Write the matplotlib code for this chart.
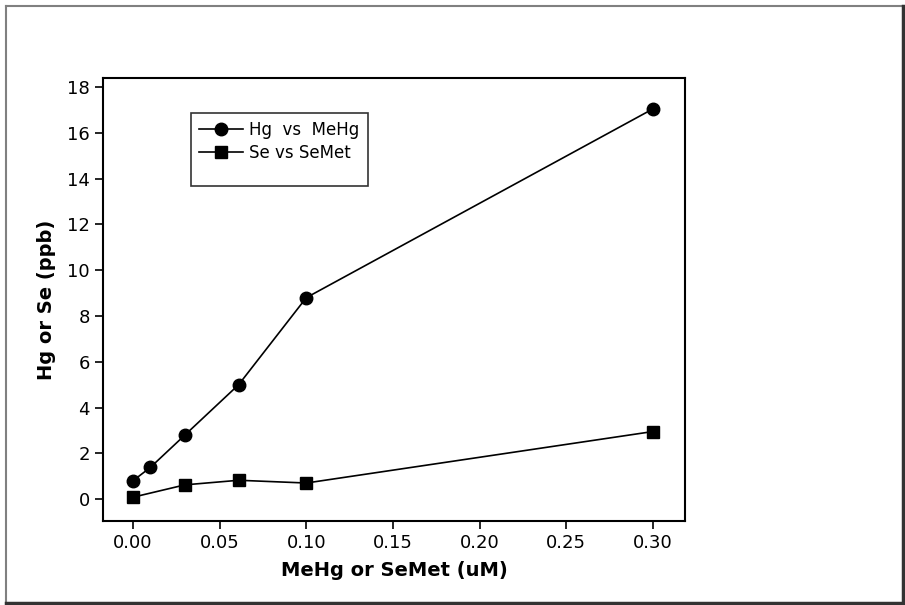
import numpy as np
import matplotlib.pyplot as plt
from matplotlib.lines import Line2D

# data
hg_x = [0.0, 0.01, 0.03, 0.061, 0.10, 0.30]
hg_y = [0.8, 1.38, 2.8, 5.0, 8.8, 17.05]
se_x = [0.0, 0.03, 0.061, 0.10, 0.30]
se_y = [0.08, 0.62, 0.82, 0.70, 2.95]

xticks = [0.00, 0.05, 0.10, 0.15, 0.20, 0.25, 0.30]
yticks = [0, 2, 4, 6, 8, 10, 12, 14, 16, 18]

plt.rcParams['font.family'] = ['DejaVu Sans']

W, H = 905, 605
fig = plt.figure(figsize=(W / 100, H / 100), dpi=100)

# outer frame, lighter top/left, darker bottom/right
fig.add_artist(Line2D([6 / W, 6 / W], [1 - 6 / H, 1 - 603 / H], color='#808080', lw=1.5))
fig.add_artist(Line2D([6 / W, 903 / W], [1 - 6 / H, 1 - 6 / H], color='#808080', lw=1.5))
fig.add_artist(Line2D([6 / W, 903 / W], [1 - 603 / H, 1 - 603 / H], color='#333333', lw=2.5))
fig.add_artist(Line2D([903 / W, 903 / W], [1 - 6 / H, 1 - 603 / H], color='#333333', lw=2.5))

ax = fig.add_axes([103 / W, 1 - 521 / H, (685 - 103) / W, (521 - 78) / H])

ax.plot(hg_x, hg_y, color='black', lw=1.2, marker='o', ms=9, label='Hg  vs  MeHg')
ax.plot(se_x, se_y, color='black', lw=1.2, marker='s', ms=8.5, label='Se vs SeMet')

ax.set_xlim(-0.0173, 0.3185)
ax.set_ylim(-0.96, 18.4)
ax.set_xticks(xticks)
ax.set_xticklabels(['%.2f' % v for v in xticks])
ax.set_yticks(yticks)
ax.tick_params(labelsize=13, length=6, width=1.2, color='black')
for s in ax.spines.values():
    s.set_linewidth(1.5)

ax.set_xlabel('MeHg or SeMet (uM)', fontsize=14, fontweight='bold', labelpad=6)
ax.set_ylabel('Hg or Se (ppb)', fontsize=14, fontweight='bold', labelpad=8)

leg = ax.legend(loc='upper left', bbox_to_anchor=((191 - 103) / 582, 1 - (113 - 78) / 443),
                fontsize=12, frameon=True, fancybox=False, edgecolor='black',
                borderpad=0.5, handlelength=2.6, handletextpad=0.4,
                labelspacing=0.3, borderaxespad=0)
leg.get_frame().set_linewidth(1.2)
# reference legend box leaves empty room below the entries
leg._legend_box.set_height(56)

fig.savefig('out.png', dpi=100)
